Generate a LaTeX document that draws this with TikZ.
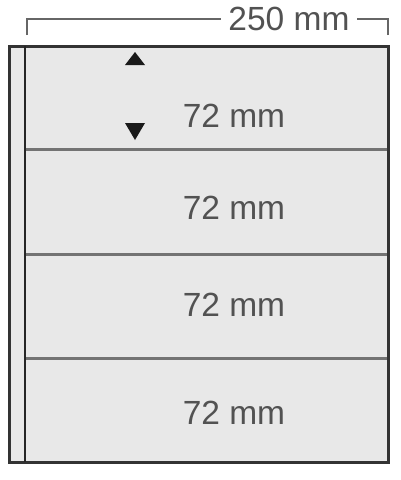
\documentclass[tikz,border=0pt]{standalone}
\usepackage{fontspec}
\setmainfont{Liberation Sans}
\begin{document}
\begin{tikzpicture}[x=1pt,y=-1pt,
  lbl/.style={font=\fontsize{33.5}{36}\selectfont, text=black!68, inner sep=0pt},
  divider/.style={draw=black!55, line width=3pt},
  frame/.style={draw=black!80, line width=3pt},
  dimline/.style={draw=black!60, line width=1.6pt},
  tri/.style={fill=black!90}]
\useasboundingbox[fill=white] (0,0) rectangle (400,480);
% page
\fill[black!9] (9,46) rectangle (388,462);
\draw[divider] (25,149) -- (388,149);
\draw[divider] (25,254) -- (388,254);
\draw[divider] (25,358) -- (388,358);
\draw[frame] (9,46) rectangle (388,462);
\draw[draw=black!85, line width=2pt] (25,46) -- (25,462);
% labels
\node[lbl] (l1) at (234,116) {72 mm};
\node[lbl] (l2) at (234,208) {72 mm};
\node[lbl] (l3) at (234,305) {72 mm};
\node[lbl] (l4) at (234,413) {72 mm};
% triangles
\fill[tri] (135,52) -- (145,65) -- (125,65) -- cycle;
\fill[tri] (125,123) -- (145,123) -- (135,140) -- cycle;
% dimension
\node[lbl, inner xsep=7pt] (w) at (289,19) {250 mm};
\coordinate (a) at (27,35);
\coordinate (b) at (388,35);
\draw[dimline] (a) |- (w.west);
\draw[dimline] (b) |- (w.east);
\end{tikzpicture}
\end{document}
